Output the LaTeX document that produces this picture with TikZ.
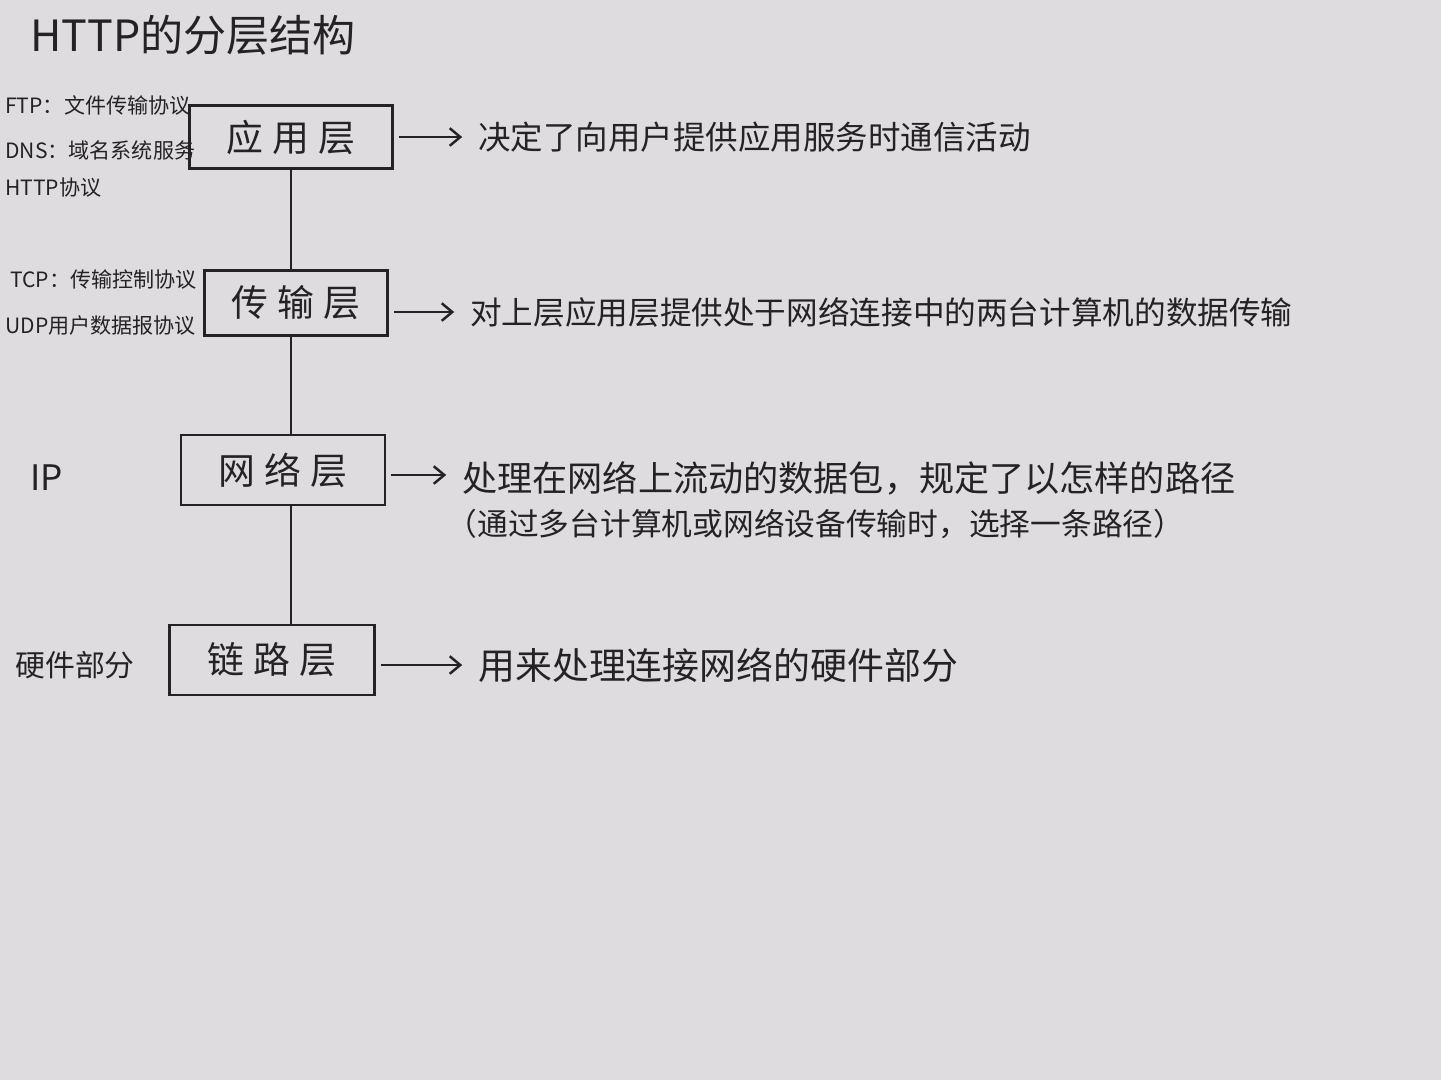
\documentclass[tikz,border=0pt]{standalone}
\usepackage{fontspec}
\newfontfamily\cjk{Noto Sans CJK SC}
\usetikzlibrary{arrows.meta}
\definecolor{paper}{RGB}{222,220,222}
\definecolor{ink}{RGB}{36,34,36}
\begin{document}
\begin{tikzpicture}[x=0.02cm,y=-0.02cm,
    layer/.style={draw=ink,line width=1.4pt,inner sep=0pt,text=ink,
        font=\cjk\fontsize{21}{24}\selectfont},
    desc/.style={anchor=west,inner sep=0pt,align=left,text=ink,
        font=\cjk\fontsize{18}{25}\selectfont},
    proto/.style={anchor=west,inner sep=0pt,text=ink,
        font=\cjk\fontsize{12}{14}\selectfont},
    link/.style={draw=ink,line width=1.4pt},
    pointer/.style={link,-{Straight Barb[length=6pt,width=10pt]},
        shorten <=3pt,shorten >=9pt}]
    \fill[paper] (0,0) rectangle (1441,1080);
    \useasboundingbox (0,0) rectangle (1441,1080);

    % title
    \node[anchor=west,inner sep=0pt,text=ink,font=\cjk\fontsize{24.5}{28}\selectfont]
        (title) at (30,35) {HTTP的分层结构};

    % the four layers
    \node[layer,minimum width=4.06cm,minimum height=1.26cm] (app) at (291,137) {应\hspace{0.25em}用\hspace{0.25em}层};
    \node[layer,minimum width=3.66cm,minimum height=1.3cm] (trans) at (296,303) {传\hspace{0.25em}输\hspace{0.25em}层};
    \node[layer,minimum width=4.08cm,minimum height=1.4cm] (net) at (283,470) {网\hspace{0.25em}络\hspace{0.25em}层};
    \node[layer,minimum width=4.1cm,minimum height=1.4cm] (linkl) at (272,660) {链\hspace{0.25em}路\hspace{0.25em}层};

    \draw[link] (app.south) -- (app.south |- trans.north);
    \draw[link] (trans.south -| app.south) -- (app.south |- net.north);
    \draw[link] (net.south -| app.south) -- (app.south |- linkl.north);

    % protocols on the left
    \node[proto] (ftp) at (5,105) {FTP：文件传输协议};
    \node[proto] (dns) at (5,150) {DNS：域名系统服务};
    \node[proto] (http) at (5,188) {HTTP协议};
    \node[proto] (tcp) at (10,280) {TCP：传输控制协议};
    \node[proto] (udp) at (5,325) {UDP用户数据报协议};
    \node[proto,font=\cjk\fontsize{20}{24}\selectfont] (ip) at (30,478) {IP};
    \node[proto,font=\cjk\fontsize{17}{20}\selectfont] (hw) at (15,665) {硬件部分};

    % what each layer does
    \node[desc,font=\cjk\fontsize{18.5}{25}\selectfont] (d1) at (478,137) {决定了向用户提供应用服务时通信活动};
    \node[desc] (d2) at (470,312) {对上层应用层提供处于网络连接中的两台计算机的数据传输};
    \node[desc] (d3) at (462,500) {{\fontsize{20}{25}\selectfont 处理在网络上流动的数据包，规定了以怎样的路径}\\
        \hspace*{-0.5em}{\fontsize{17.5}{25}\selectfont（通过多台计算机或网络设备传输时，选择一条路径）}};
    \node[desc,font=\cjk\fontsize{21}{25}\selectfont] (d4) at (478,665) {用来处理连接网络的硬件部分};

    \draw[pointer] (app.east) -- (app.east -| d1.west);
    \draw[pointer] (trans.east |- d2.west) -- (d2.west);
    \draw[pointer] (net.east |- 0,475) -- (d3.west |- 0,475);
    \draw[pointer] (linkl.east |- d4.west) -- (d4.west);
\end{tikzpicture}
\end{document}
